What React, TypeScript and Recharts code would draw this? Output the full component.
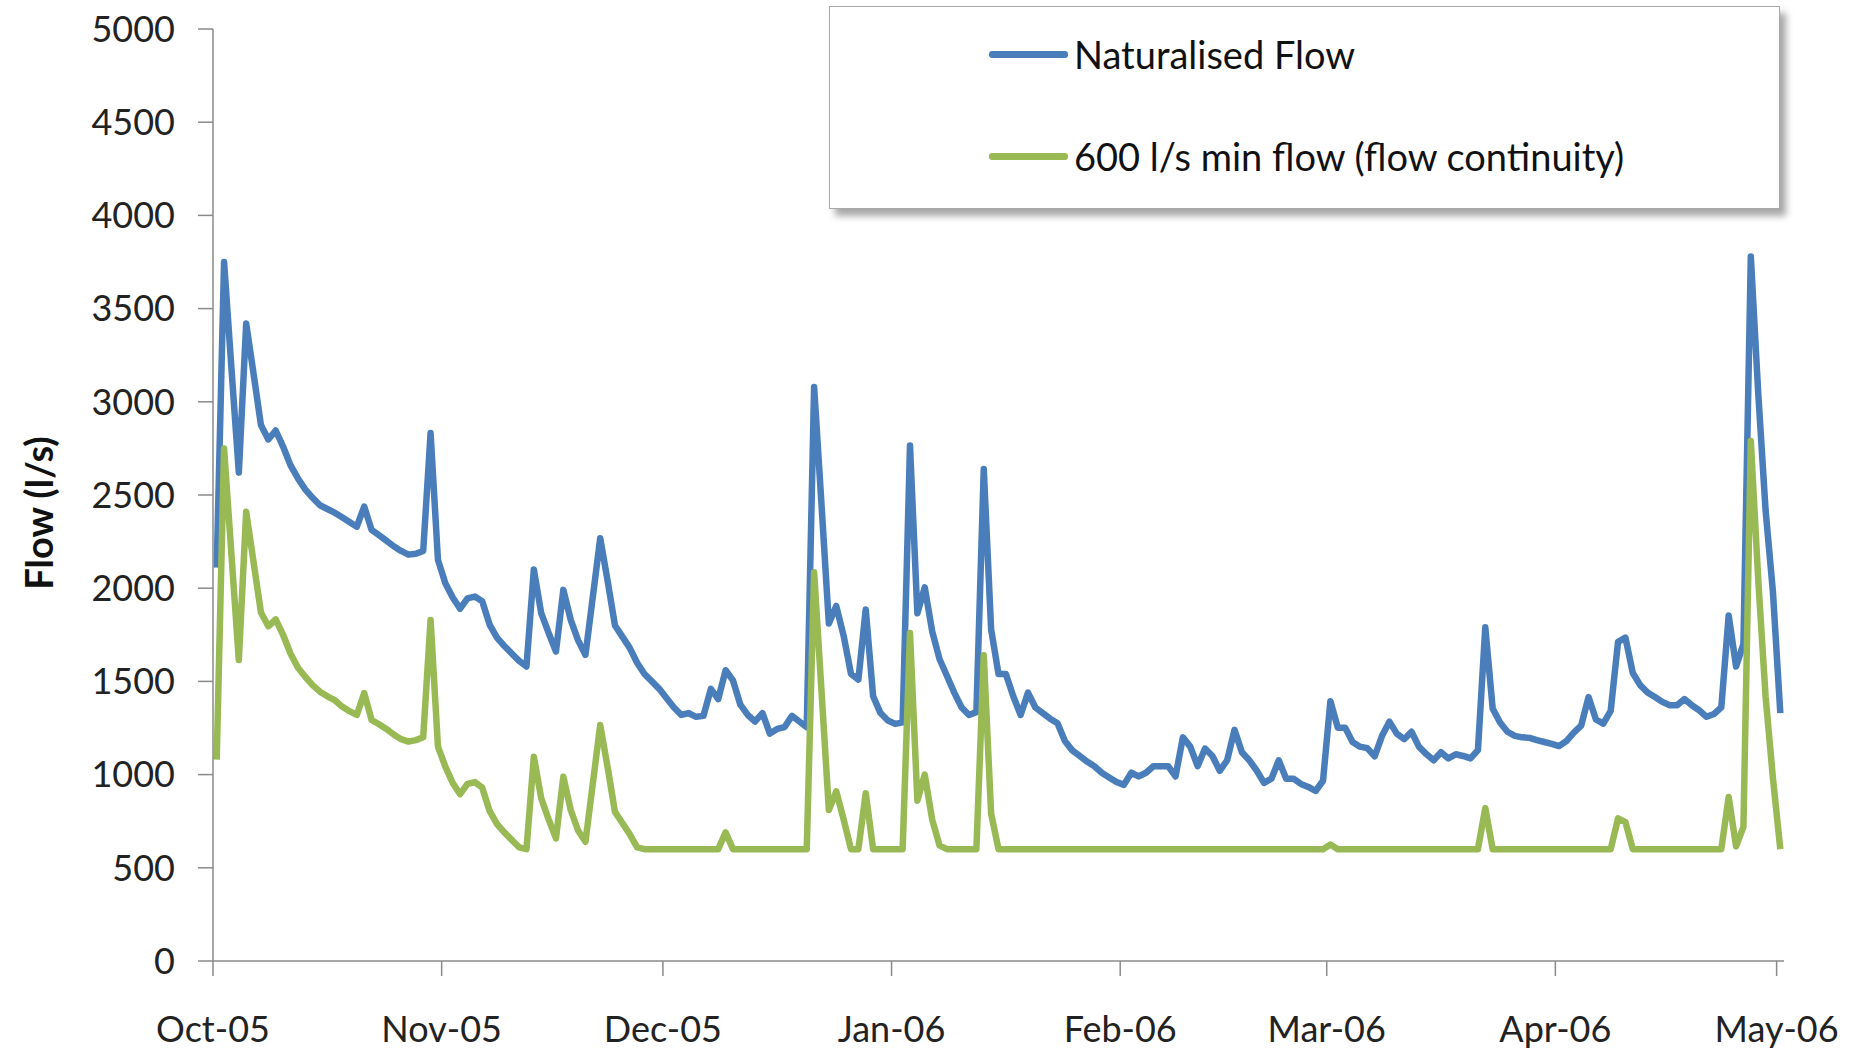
import React from 'react';
import { LineChart, Line, XAxis, YAxis, Legend } from 'recharts';

// Daily values, 1 Oct 2005 (index 0) to 1 May 2006 (index 212)
const naturalisedFlow: number[] = [
  2110, 3750, 3180, 2620, 3420, 3150, 2875, 2798, 2846, 2760,
  2660, 2590, 2530, 2485, 2445, 2425, 2405, 2380, 2355, 2330,
  2438, 2313, 2285, 2255, 2225, 2200, 2180, 2185, 2200, 2832,
  2152, 2027, 1950, 1890, 1945, 1955, 1930, 1805, 1735, 1690,
  1650, 1610, 1580, 2100, 1866, 1760, 1660, 1991, 1830, 1720,
  1642, 1955, 2268, 2040, 1800, 1740, 1680, 1600, 1540, 1500,
  1460, 1410, 1360, 1320, 1330, 1310, 1315, 1460, 1405, 1560,
  1505, 1375, 1320, 1285, 1330, 1220, 1245, 1255, 1315, 1285,
  1255, 3080, 2450, 1810, 1905, 1745, 1540, 1510, 1886, 1420,
  1330, 1290, 1272, 1280, 2765, 1865, 2005, 1770, 1620, 1530,
  1440, 1360, 1320, 1335, 2640, 1780, 1540, 1540, 1420, 1320,
  1440, 1360, 1330, 1300, 1275, 1180, 1130, 1100, 1070, 1045,
  1010, 985, 960, 945, 1010, 990, 1010, 1045, 1045, 1045,
  990, 1200, 1150, 1045, 1140, 1100, 1020, 1077, 1240, 1120,
  1077, 1022, 956, 978, 1077, 978, 978, 950, 934, 912,
  967, 1394, 1252, 1252, 1175, 1150, 1142, 1098, 1208, 1284,
  1220, 1190, 1230, 1150, 1110, 1077, 1120, 1087, 1109, 1100,
  1087, 1131, 1790, 1355, 1280, 1230, 1208, 1200, 1197, 1185,
  1175, 1165, 1153, 1180, 1225, 1263, 1416, 1296, 1273, 1342,
  1712, 1735, 1545, 1480, 1440, 1416, 1390, 1372, 1372, 1405,
  1372, 1345, 1310, 1325, 1361, 1854, 1580, 1700, 3780, 3050,
  2420, 1980, 1330,
];

const minFlow600: number[] = [
  1080, 2750, 2180, 1615, 2410, 2140, 1870, 1796, 1832, 1750,
  1650, 1575, 1525, 1480, 1445, 1420, 1400, 1365, 1340, 1320,
  1437, 1293, 1270, 1245, 1215, 1190, 1177, 1185, 1200, 1830,
  1150, 1043, 955, 895, 950, 960, 930, 805, 735, 690,
  650, 610, 600, 1096, 873, 760, 658, 989, 810, 700,
  640, 953, 1266, 1040, 800, 740, 680, 610, 600, 600,
  600, 600, 600, 600, 600, 600, 600, 600, 600, 690,
  600, 600, 600, 600, 600, 600, 600, 600, 600, 600,
  600, 2085, 1450, 810, 910, 760, 600, 600, 900, 600,
  600, 600, 600, 600, 1760, 860, 1000, 760, 620, 600,
  600, 600, 600, 600, 1640, 790, 600, 600, 600, 600,
  600, 600, 600, 600, 600, 600, 600, 600, 600, 600,
  600, 600, 600, 600, 600, 600, 600, 600, 600, 600,
  600, 600, 600, 600, 600, 600, 600, 600, 600, 600,
  600, 600, 600, 600, 600, 600, 600, 600, 600, 600,
  600, 625, 600, 600, 600, 600, 600, 600, 600, 600,
  600, 600, 600, 600, 600, 600, 600, 600, 600, 600,
  600, 600, 820, 600, 600, 600, 600, 600, 600, 600,
  600, 600, 600, 600, 600, 600, 600, 600, 600, 600,
  765, 745, 600, 600, 600, 600, 600, 600, 600, 600,
  600, 600, 600, 600, 600, 880, 615, 720, 2790, 2050,
  1420, 980, 600,
];

const monthStartDays: number[] = [0, 31, 61, 92, 123, 151, 182, 212];
const monthLabels: string[] = ['Oct-05', 'Nov-05', 'Dec-05', 'Jan-06', 'Feb-06', 'Mar-06', 'Apr-06', 'May-06'];
const yTicks: number[] = [0, 500, 1000, 1500, 2000, 2500, 3000, 3500, 4000, 4500, 5000];
const seriesNames: string[] = ['Naturalised Flow', '600 l/s min flow (flow continuity)'];

// each daily value sits in the middle of its day on the date axis
const data = naturalisedFlow.map((v, i) => ({
  day: i + 0.5,
  naturalised: v,
  minFlow: minFlow600[i],
}));

const BLUE = '#4a7ebb';
const GREEN = '#98b954';
const AXIS = '#8a8a8a';

const renderLegend = (props: any) => {
  const payload: any[] = props.payload || [];
  const ordered = seriesNames
    .map((n) => payload.find((e: any) => e.value === n))
    .filter(Boolean);
  const rows = [47, 149];
  return (
    <div style={{ position: 'relative', width: '100%', height: '100%' }}>
      {ordered.map((entry: any, i: number) => (
        <div
          key={entry.value}
          style={{
            position: 'absolute',
            left: 159,
            top: rows[i] - 25,
            height: 50,
            display: 'flex',
            alignItems: 'center',
          }}
        >
          <span
            style={{
              display: 'inline-block',
              width: 79,
              height: 7,
              background: entry.color,
              borderRadius: 3,
              marginRight: 6,
            }}
          />
          <span
            style={{
              fontFamily: 'Lato, sans-serif',
              fontSize: 38,
              color: '#111',
              whiteSpace: 'nowrap',
              lineHeight: '50px',
            }}
          >
            {entry.value}
          </span>
        </div>
      ))}
    </div>
  );
};

const renderYLabel = (p: any) => {
  const vb = p.viewBox || { x: 13, y: 29, width: 200, height: 932 };
  const cx = vb.x + 25;
  const cy = vb.y + vb.height / 2 + 18;
  return (
    <text
      x={cx}
      y={cy}
      transform={`rotate(-90 ${cx} ${cy})`}
      textAnchor="middle"
      dominantBaseline="central"
      style={{ fontFamily: 'Lato, sans-serif', fontSize: 38, fontWeight: 700, fill: '#111' }}
    >
      Flow (l/s)
    </text>
  );
};

export default function App() {
  return (
    <div
      style={{
        position: 'absolute',
        left: 0,
        top: 0,
        width: 1851,
        height: 1049,
        background: '#ffffff',
        fontFamily: 'Lato, sans-serif',
      }}
    >
      <LineChart
        width={1851}
        height={1049}
        data={data}
        margin={{ top: 29, right: 67, bottom: 8, left: 13 }}
      >
        <XAxis
          dataKey="day"
          type="number"
          domain={[0, 213]}
          ticks={monthStartDays}
          interval={0}
          tickFormatter={(v: number) => monthLabels[monthStartDays.indexOf(v)]}
          height={80}
          tickSize={15}
          tickMargin={40}
          axisLine={{ stroke: AXIS, strokeWidth: 1.5 }}
          tickLine={{ stroke: AXIS, strokeWidth: 1.5 }}
          tick={{ fontFamily: 'Lato, sans-serif', fontSize: 36, fill: '#222' }}
        />
        <YAxis
          type="number"
          domain={[0, 5000]}
          ticks={yTicks}
          interval={0}
          width={200}
          tickSize={15}
          tickMargin={23}
          axisLine={{ stroke: AXIS, strokeWidth: 1.5 }}
          tickLine={{ stroke: AXIS, strokeWidth: 1.5 }}
          tick={{ fontFamily: 'Lato, sans-serif', fontSize: 36, fill: '#222' }}
          label={{ content: renderYLabel }}
        />
        <Legend
          layout="horizontal"
          verticalAlign="middle"
          align="center"
          content={renderLegend}
          wrapperStyle={{
            left: 829,
            top: 6,
            width: 951,
            height: 203,
            border: '1.5px solid #a8a8a8',
            boxShadow: '6px 7px 7px rgba(0,0,0,0.35)',
            background: '#ffffff',
            boxSizing: 'border-box',
          }}
        />
        <Line
          type="linear"
          dataKey="naturalised"
          name={seriesNames[0]}
          stroke={BLUE}
          strokeWidth={6.5}
          strokeLinejoin="round"
          dot={false}
          activeDot={false}
          isAnimationActive={false}
        />
        <Line
          type="linear"
          dataKey="minFlow"
          name={seriesNames[1]}
          stroke={GREEN}
          strokeWidth={6.5}
          strokeLinejoin="round"
          dot={false}
          activeDot={false}
          isAnimationActive={false}
        />
      </LineChart>
    </div>
  );
}
